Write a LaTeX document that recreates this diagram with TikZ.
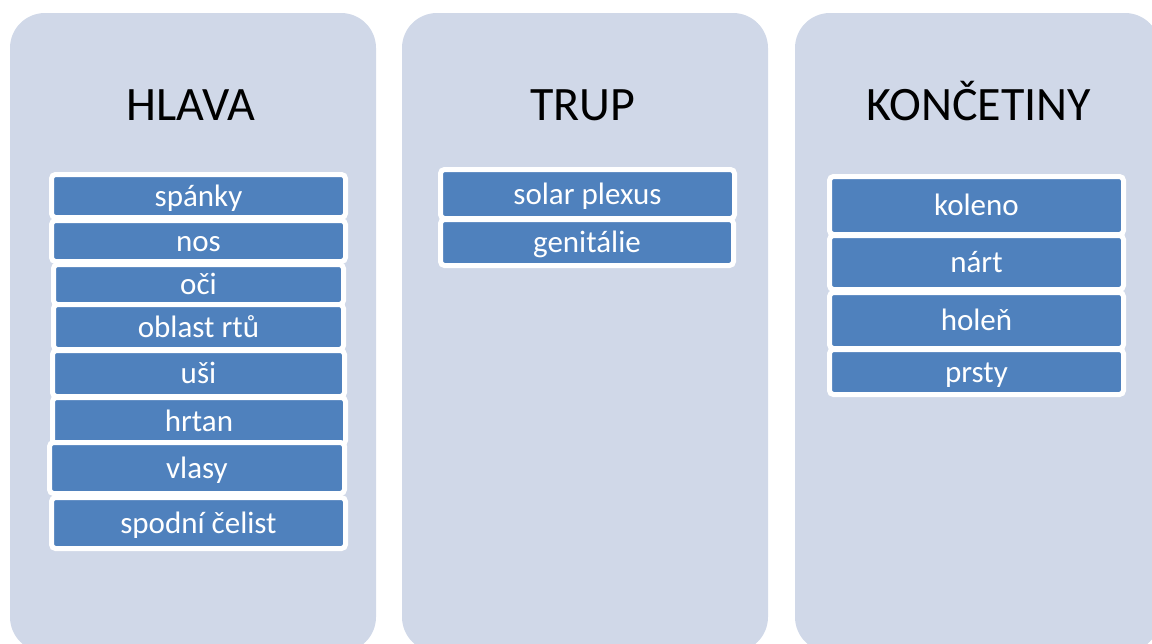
\documentclass[tikz,border=0pt]{standalone}
\usepackage{fontspec}
\setmainfont{Carlito}
\definecolor{panelbg}{RGB}{208,216,232}
\definecolor{itemblue}{RGB}{79,129,189}
\begin{document}
\begin{tikzpicture}[x=1pt,y=-1pt,
  panel/.style={fill=panelbg, draw=none, rounded corners=35pt},
  title/.style={anchor=base, font=\fontsize{48}{52}\selectfont, text=black, inner sep=0pt},
  item/.style={fill=itemblue, draw=white, line width=5pt, rounded corners=4pt,
    text=white, font=\fontsize{31}{34}\selectfont, inner sep=0pt,
    text height=23pt, text depth=3pt, align=center}]
\useasboundingbox (0,0) rectangle (1152,643);
\clip (0,0) rectangle (1152,643);
% panels
\path[panel] (10,13) rectangle (376,652);
\path[panel] (402,13) rectangle (768,652);
\path[panel] (795,13) rectangle (1160,652);
% titles
\node[title] (t1) at (191,120) {HLAVA};
\node[title] (t2) at (583,120) {TRUP};
\node[title] (t3) at (979,120) {KONČETINY};
% panel 1 items
\node[item, minimum width=294pt, minimum height=43pt] (a1) at (198.5,196) {spánky};
\node[item, minimum width=294pt, minimum height=41pt] (a2) at (198.5,241) {nos};
\node[item, minimum width=290pt, minimum height=40pt] (a3) at (198.5,284.5) {oči};
\node[item, minimum width=290pt, minimum height=45pt] (a4) at (198.5,327) {oblast rtů};
\node[item, minimum width=292pt, minimum height=46pt] (a5) at (198.5,373.5) {uši};
\node[item, minimum width=293pt, minimum height=47pt] (a6) at (199,421) {hrtan};
\node[item, minimum width=295pt, minimum height=51pt] (a7) at (197,468) {vlasy};
\node[item, minimum width=294pt, minimum height=51pt] (a8) at (198.5,523) {spodní čelist};
% panel 2 items
\node[item, minimum width=294pt, minimum height=49pt] (b1) at (587.5,194) {solar plexus};
\node[item, minimum width=293pt, minimum height=46pt] (b2) at (587,242.5) {genitálie};
% panel 3 items
\node[item, minimum width=294pt, minimum height=58pt] (c1) at (976.5,205.5) {koleno};
\node[item, minimum width=294pt, minimum height=54pt] (c2) at (976.5,262.5) {nárt};
\node[item, minimum width=294pt, minimum height=56pt] (c3) at (976.5,320.5) {holeň};
\node[item, minimum width=294pt, minimum height=45pt] (c4) at (976.5,372) {prsty};
\end{tikzpicture}
\end{document}
